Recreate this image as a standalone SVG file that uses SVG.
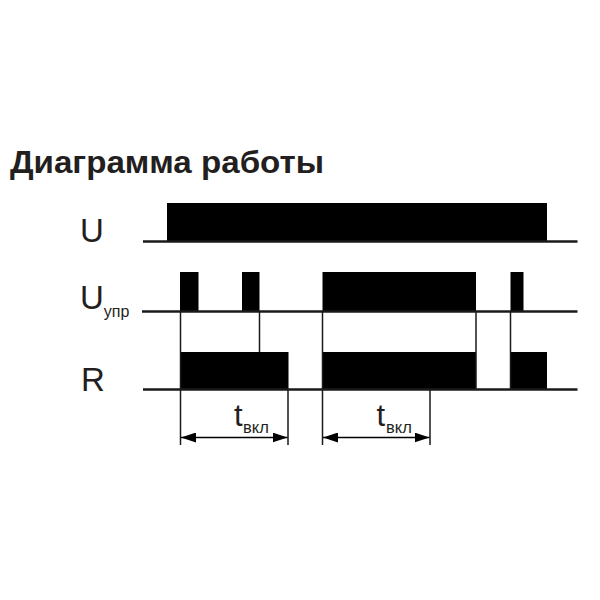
<svg xmlns="http://www.w3.org/2000/svg" width="600" height="600" viewBox="0 0 600 600">
<defs>
<style>
.base{stroke:#1a1a1a;stroke-width:2.5;fill:none}
.pulse{fill:#000}
.tick{stroke:#1a1a1a;stroke-width:1.5;fill:none}
.dim{stroke:#000;stroke-width:1.5;fill:none;marker-start:url(#arrS);marker-end:url(#arrE)}
.lbl{font-family:"Liberation Sans",Arial,sans-serif;fill:#231f20}
</style>
<marker id="arrE" markerWidth="15" markerHeight="10" refX="15" refY="5" orient="auto" markerUnits="userSpaceOnUse"><path d="M0,0 L15,5 L0,10 Z" fill="#000"/></marker>
<marker id="arrS" markerWidth="15" markerHeight="10" refX="0" refY="5" orient="auto" markerUnits="userSpaceOnUse"><path d="M15,0 L0,5 L15,10 Z" fill="#000"/></marker>
</defs>
<rect width="600" height="600" fill="#fff"/>
<text x="10" y="173" class="lbl" font-size="31.5" font-weight="bold" textLength="314" lengthAdjust="spacingAndGlyphs">Диаграмма работы</text>

<g id="row-U">
<text x="80" y="241.5" class="lbl" font-size="33">U</text>
<rect class="pulse" x="167" y="203" width="380" height="38.5"/>
<line class="base" x1="143" y1="241.5" x2="577.5" y2="241.5"/>
</g>

<g id="row-Uupr">
<text x="80" y="308.5" class="lbl" font-size="33">U<tspan font-size="16" dy="8">упр</tspan></text>
<rect class="pulse" x="180" y="272" width="18.5" height="39.5"/>
<rect class="pulse" x="242" y="272" width="17.5" height="39.5"/>
<rect class="pulse" x="322.5" y="272" width="153.5" height="39.5"/>
<rect class="pulse" x="510.5" y="272" width="13" height="39.5"/>
<line class="base" x1="142" y1="311.5" x2="577.5" y2="311.5"/>
</g>

<g id="row-R">
<text x="81" y="390.5" class="lbl" font-size="33">R</text>
<rect class="pulse" x="180" y="352" width="108.5" height="37.5"/>
<rect class="pulse" x="322.5" y="352" width="153.5" height="37.5"/>
<rect class="pulse" x="510.5" y="352" width="36.5" height="37.5"/>
<line class="base" x1="143" y1="389.5" x2="577.5" y2="389.5"/>
</g>

<g id="connectors">
<line class="tick" x1="180.5" y1="311" x2="180.5" y2="445"/>
<line class="tick" x1="259.5" y1="311" x2="259.5" y2="352"/>
<line class="tick" x1="322.5" y1="311" x2="322.5" y2="445"/>
<line class="tick" x1="476" y1="311" x2="476" y2="389"/>
<line class="tick" x1="510.5" y1="311" x2="510.5" y2="389"/>
<line class="tick" x1="288" y1="389" x2="288" y2="445"/>
<line class="tick" x1="430" y1="389" x2="430" y2="445"/>
<line class="dim" x1="181" y1="437.5" x2="287.5" y2="437.5"/>
<line class="dim" x1="323" y1="437.5" x2="429.5" y2="437.5"/>
</g>

<g id="label-t1">
<text x="234" y="426" class="lbl" font-size="31">t<tspan font-size="16.5" dy="7" x="243">вкл</tspan></text>
</g>
<g id="label-t2">
<text x="376.5" y="426" class="lbl" font-size="31">t<tspan font-size="16.5" dy="7" x="386">вкл</tspan></text>
</g>
</svg>
